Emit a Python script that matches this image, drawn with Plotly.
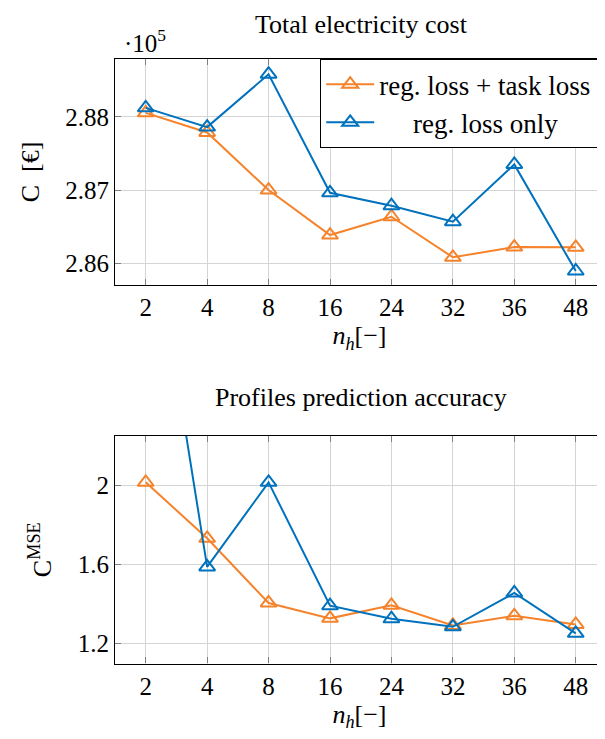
import plotly.graph_objects as go
from plotly.subplots import make_subplots

n_h = ["2", "4", "8", "16", "24", "32", "36", "48"]

cost_task = [2.88055, 2.87787, 2.8700, 2.86386, 2.86636, 2.86082, 2.86222, 2.86218]
cost_reg = [2.88123, 2.8786, 2.88582, 2.86963, 2.86786, 2.86568, 2.8735, 2.85895]

mse_task = [2.017, 1.733, 1.405, 1.327, 1.393, 1.291, 1.340, 1.296]
mse_reg = [3.54, 1.588, 2.017, 1.391, 1.325, 1.284, 1.456, 1.251]

name_task = "reg. loss + task loss"
name_reg = "reg. loss only"

ORANGE = "#F5832B"
BLUE = "#0072BD"
FONT = "Liberation Serif, Times New Roman, DejaVu Serif, serif"

W, H = 605, 739
O = 8  # page body offset
L = 115 - O
R = W - (604 - O)

def py(page_y):
    return 1 - (page_y - O) / H

def px_x(page_x):
    return (page_x - O - L) / (W - L - R)

fig = make_subplots(rows=2, cols=1)

for vals_t, vals_r, row, show in [(cost_task, cost_reg, 1, True), (mse_task, mse_reg, 2, False)]:
    fig.add_trace(go.Scatter(
        x=n_h, y=vals_t, name=name_task + "\u00a0", mode="lines+markers",
        line=dict(color=ORANGE, width=2),
        marker=dict(symbol="triangle-up-open", size=14, color=ORANGE, line=dict(width=2, color=ORANGE)),
        showlegend=show, cliponaxis=True), row=row, col=1)
    fig.add_trace(go.Scatter(
        x=n_h, y=vals_r, name="\u00a0" * 5 + name_reg, mode="lines+markers",
        line=dict(color=BLUE, width=2),
        marker=dict(symbol="triangle-up-open", size=14, color=BLUE, line=dict(width=2, color=BLUE)),
        showlegend=show, cliponaxis=True), row=row, col=1)

axis_common = dict(
    showline=True, linecolor="black", linewidth=1.2, mirror="allticks",
    ticks="inside", ticklen=6, tickcolor="#808080", tickwidth=1.2,
    showgrid=True, gridcolor="#d4d4d4", gridwidth=1,
    zeroline=False,
    tickfont=dict(family=FONT, size=25, color="black"),
)

xaxis_common = dict(axis_common, type="category", range=[-0.5, 7.46],
                    title=dict(text="<i>n</i><sub><i>h</i></sub>[\u2212]",
                               font=dict(family=FONT, size=26, color="black"), standoff=4))

fig.update_xaxes(**xaxis_common, row=1, col=1)
fig.update_xaxes(**xaxis_common, row=2, col=1)

fig.update_yaxes(**axis_common, row=1, col=1, range=[2.85704, 2.8879],
                 tickvals=[2.86, 2.87, 2.88], ticktext=["2.86", "2.87", "2.88"],
                 title=dict(text="C\u00a0\u00a0[\u20ac]", font=dict(family=FONT, size=26, color="black"), standoff=18))
fig.update_yaxes(**axis_common, row=2, col=1, range=[1.098, 2.252],
                 tickvals=[1.2, 1.6, 2.0], ticktext=["1.2", "1.6", "2"],
                 title=dict(text="C<sup>MSE</sup>", font=dict(family=FONT, size=26, color="black"), standoff=18))

fig.update_layout(
    width=W, height=H,
    margin=dict(l=L, r=R, t=0, b=0),
    paper_bgcolor="white", plot_bgcolor="white",
    font=dict(family=FONT, color="black"),
    xaxis=dict(domain=[0, 1]),
    xaxis2=dict(domain=[0, 1]),
    yaxis=dict(domain=[py(285), py(59)]),
    yaxis2=dict(domain=[py(663.5), py(436)]),
    legend=dict(
        x=1, y=py(59), xanchor="right", yanchor="top",
        bordercolor="black", borderwidth=1.2, bgcolor="white",
        font=dict(family=FONT, size=27, color="black"),
        tracegroupgap=0, itemwidth=48,
    ),
    annotations=[
        dict(text="Total electricity cost", x=px_x(361), y=1, xref="paper", yref="paper",
             showarrow=False, font=dict(family=FONT, size=26, color="black"), yanchor="top"),
        dict(text="Profiles prediction accuracy", x=px_x(361), y=py(397), xref="paper", yref="paper",
             showarrow=False, font=dict(family=FONT, size=26, color="black"), yanchor="middle"),
        dict(text="\u00b710<sup>5</sup>", x=px_x(122), y=py(41), xref="paper", yref="paper",
             showarrow=False, xanchor="left", yanchor="middle",
             font=dict(family=FONT, size=25, color="black")),
    ],
)

fig.write_html("out.html")
